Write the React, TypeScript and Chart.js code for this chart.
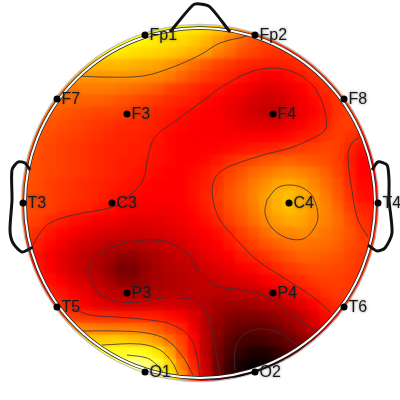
import React, { useEffect, useRef } from "react";
import { Chart, registerables } from "chart.js";

Chart.register(...registerables);

const _ = null;
const gridXs = [26,38,50,62,74,86,98,110,122,134,146,158,170,182,194,206,218,230,242,254,266,278,290,302,314,326,338,350,362,374];
const gridYs = [29,41,53,65,77,89,101,113,125,137,149,161,173,185,197,209,221,233,245,257,269,281,293,305,317,329,341,353,365,377];
const heatRows: (number | null)[][] = [
[_,_,_,_,_,_,_,_,_,_,75,75,74,73,72,70,67,63,58,53,_,_,_,_,_,_,_,_,_,_],
[_,_,_,_,_,_,_,_,75,75,74,73,71,70,68,65,61,57,53,50,48,47,_,_,_,_,_,_,_,_],
[_,_,_,_,_,_,73,73,72,71,70,69,68,66,64,61,57,54,50,48,46,45,45,45,_,_,_,_,_,_],
[_,_,_,_,65,65,65,65,65,64,63,62,60,57,54,51,48,46,44,43,42,42,43,44,46,47,_,_,_,_],
[_,_,_,61,61,60,60,60,60,60,59,58,56,53,50,47,45,43,41,39,37,37,39,41,44,46,48,_,_,_],
[_,_,57,57,56,56,56,56,55,54,53,51,48,46,44,42,41,39,37,35,33,33,35,38,41,44,46,47,_,_],
[_,55,54,53,53,52,52,51,50,49,47,46,44,43,42,39,38,36,34,32,31,31,33,36,39,42,45,46,47,_],
[_,53,52,51,50,49,48,48,47,46,45,43,42,40,39,38,37,35,33,31,29,29,32,35,38,41,45,47,47,_],
[52,51,50,49,48,47,46,45,44,44,43,42,40,39,38,37,37,36,34,33,33,33,35,37,40,42,46,47,46,46],
[52,50,49,48,47,46,45,44,43,43,42,41,39,38,37,37,37,37,37,37,37,38,39,41,42,45,47,45,43,43],
[51,50,48,47,46,45,44,43,43,42,42,40,39,38,37,38,38,39,40,41,42,43,45,46,47,48,47,43,40,40],
[51,49,48,47,46,45,44,43,42,42,41,40,39,38,38,39,41,44,46,48,50,51,52,51,50,49,47,42,38,38],
[50,49,48,47,46,45,44,43,42,41,40,39,38,38,39,41,44,47,50,53,55,57,58,57,55,52,48,43,38,38],
[50,49,47,46,45,44,43,42,41,40,39,38,38,38,40,42,45,49,52,56,59,62,63,61,58,54,50,44,39,39],
[49,48,47,46,45,44,43,41,40,39,38,38,38,38,40,43,46,50,53,57,61,64,66,64,60,56,51,45,40,39],
[49,48,47,45,44,43,41,40,38,37,37,36,36,37,39,42,45,49,52,56,60,64,66,64,60,57,53,47,43,42],
[48,47,44,42,40,39,37,36,35,34,34,34,35,36,38,40,43,47,50,54,58,61,63,62,59,57,54,49,45,43],
[46,44,41,39,37,35,33,32,31,31,31,32,33,34,36,38,40,43,47,50,54,57,58,59,57,55,53,50,46,44],
[44,42,39,36,33,31,30,28,28,28,28,29,31,32,34,36,38,41,44,47,50,52,54,55,54,54,52,49,47,45],
[42,40,37,34,31,29,27,25,22,22,24,26,28,30,31,34,36,38,41,43,45,48,50,52,52,51,50,48,46,44],
[_,41,38,34,31,29,26,22,18,18,22,25,27,28,29,31,33,35,37,39,41,44,46,48,49,49,48,47,45,_],
[_,42,40,37,33,31,28,25,21,20,23,25,26,27,28,29,30,32,33,34,37,39,42,44,46,47,47,46,45,_],
[_,44,42,40,37,34,31,28,27,26,26,26,27,27,28,28,28,28,29,30,31,34,37,40,43,45,46,46,45,_],
[_,_,46,44,41,37,34,32,31,31,31,31,31,30,29,27,25,24,24,25,26,28,30,34,38,42,44,45,_,_],
[_,_,50,48,46,44,43,43,42,42,42,41,39,37,33,28,23,20,19,19,20,22,25,28,33,39,42,43,_,_],
[_,_,_,56,57,56,56,55,55,55,54,51,47,43,36,27,21,17,15,15,15,18,21,25,30,35,38,_,_,_],
[_,_,_,_,66,66,67,68,68,66,64,60,54,48,39,28,20,14,11,10,11,13,16,20,25,30,_,_,_,_],
[_,_,_,_,_,_,76,77,78,79,77,72,63,50,40,28,18,12,8,5,5,8,12,16,_,_,_,_,_,_],
[_,_,_,_,_,_,_,_,88,90,87,81,70,56,43,30,17,9,4,1,2,6,_,_,_,_,_,_,_,_],
[_,_,_,_,_,_,_,_,_,_,96,86,75,60,46,32,18,8,2,0,_,_,_,_,_,_,_,_,_,_],
];

const headCenter = [{ x: 200, y: 203 }];

const electrodeNames = ["Fp1","Fp2","F7","F3","F4","F8","T3","C3","C4","T4","T5","P3","P4","T6","O1","O2"];
const electrodeXs = [145,255,57,127,273,344,23,112,289,378,57,127,273,344,145,255];
const electrodeYs = [35,35,99,114,114,99,203,203,203,203,307,293,293,307,372,372];

const nose = [[170,32],[193,5],[200,4],[210,7],[230,32]];
const leftEar = [[30,170],[25,163],[18,162],[12,170],[12,200],[10,230],[13,243],[22,252],[33,247]];
const rightEar = [[372,170],[378,162],[387,165],[389,180],[389,200],[392,233],[385,248],[377,251],[368,245]];

const contours: number[][][] = [
[[80,76],[100,77],[143,76],[173,67],[200,55],[220,43],[247,36],[253,33]],
[[32,247],[40,233],[50,223],[73,215],[113,207],[128,197],[143,180],[148,157],[155,137],[177,120],[200,103],[220,88],[243,75],[262,69],[283,69],[303,77],[318,93],[326,117],[325,130],[313,138],[290,148],[263,155],[233,165],[220,172],[213,183],[213,200],[220,220],[237,240],[257,260],[287,280],[313,297],[330,312]],
[[267,200],[277,188],[290,185],[303,188],[313,197],[318,217],[313,230],[303,239],[287,238],[272,228],[265,213],[267,200]],
[[363,135],[352,143],[348,157],[353,197],[358,220],[368,237]],
[[315,331],[290,313],[267,297],[243,290],[217,286],[200,273],[187,253],[167,242],[143,240],[117,245],[97,255],[88,270],[92,283],[103,297],[123,302],[140,302],[163,298],[183,298],[200,303],[210,323],[217,357],[220,375]],
[[72,308],[90,315],[117,317],[150,320],[173,325],[190,337],[197,357],[200,377]],
[[82,331],[117,331],[147,333],[167,340],[183,357],[193,375]],
[[102,345],[140,344],[160,350],[172,362],[178,374]],
[[127,355],[147,358],[157,365],[163,372]],
[[235,370],[235,350],[243,335],[260,329],[280,333],[297,345]],
];

// "hot" colour map: black, red, yellow, white
function hot(v: number) {
  const r = Math.min(1, v / 37.5);
  const g = Math.max(0, Math.min(1, (v - 37.5) / 37.5));
  const b = Math.max(0, Math.min(1, (v - 75) / 25));
  return `rgb(${Math.round(r * 255)},${Math.round(g * 255)},${Math.round(b * 255)})`;
}

const toPoints = (pts: number[][]) => pts.map(([x, y]) => ({ x, y }));

const heatPoints: { x: number; y: number; v: number }[] = [];
heatRows.forEach((row, j) =>
  row.forEach((v, i) => {
    if (v !== null) heatPoints.push({ x: gridXs[i], y: gridYs[j], v });
  })
);

const HEAT_CLIP_R = 178;

const heatClip = {
  id: "heatClip",
  beforeDatasetDraw(chart: any, args: any) {
    const label = chart.data.datasets[args.index].label;
    if (label !== "heat" && label !== "heatSoft") return;
    const { ctx, scales } = chart;
    ctx.save();
    ctx.beginPath();
    ctx.arc(scales.x.getPixelForValue(headCenter[0].x), scales.y.getPixelForValue(headCenter[0].y), HEAT_CLIP_R, 0, Math.PI * 2);
    ctx.clip();
    if (label === "heatSoft") ctx.filter = "blur(4px)";
  },
  afterDatasetDraw(chart: any, args: any) {
    const label = chart.data.datasets[args.index].label;
    if (label !== "heat" && label !== "heatSoft") return;
    chart.ctx.restore();
  },
};

const labels = {
  id: "electrodeLabels",
  afterDatasetsDraw(chart: any) {
    const { ctx, scales } = chart;
    ctx.save();
    ctx.font = '16px "Liberation Sans"';
    ctx.textBaseline = "middle";
    ctx.textAlign = "left";
    ctx.fillStyle = "#1a1a1a";
    ctx.shadowColor = "rgba(60,60,60,0.6)";
    ctx.shadowBlur = 3;
    electrodeNames.forEach((name, i) => {
      ctx.fillText(name, scales.x.getPixelForValue(electrodeXs[i]) + 4.5, scales.y.getPixelForValue(electrodeYs[i]) + 1);
    });
    ctx.restore();
  },
};

export default function App() {
  const ref = useRef<HTMLCanvasElement>(null);
  useEffect(() => {
    const lineBase = { showLine: true, pointRadius: 0, fill: false };
    const heatBase = {
      data: heatPoints,
      pointStyle: "rect",
      pointRadius: 8.8,
      pointBorderWidth: 0,
      pointBackgroundColor: (c: any) => hot(c.raw ? c.raw.v : 0),
    };
    const chart = new Chart(ref.current!, {
      type: "scatter",
      data: {
        datasets: [
          {
            label: "electrodes",
            data: electrodeXs.map((x, i) => ({ x, y: electrodeYs[i] })),
            pointRadius: 3.5,
            pointBackgroundColor: "#000",
            pointBorderWidth: 0,
          },
          ...[nose, leftEar, rightEar].map((pts) => ({
            ...lineBase,
            label: "head",
            data: toPoints(pts),
            borderColor: "#111",
            borderWidth: 3,
            tension: 0.25,
          })),
          {
            label: "ringInner",
            data: headCenter,
            pointRadius: 175,
            pointBackgroundColor: "rgba(0,0,0,0)",
            pointBorderColor: "#fff",
            pointBorderWidth: 2,
          },
          {
            label: "ringOuter",
            data: headCenter,
            pointRadius: 175,
            pointBackgroundColor: "rgba(0,0,0,0)",
            pointBorderColor: "#222",
            pointBorderWidth: 3.5,
          },
          ...contours.map((pts) => ({
            ...lineBase,
            label: "contour",
            data: toPoints(pts),
            borderColor: "rgba(50,50,60,0.8)",
            borderWidth: 1,
            tension: 0.35,
          })),
          { ...heatBase, label: "heatSoft" },
          { ...heatBase, label: "heat" },
          {
            label: "halo",
            data: headCenter,
            pointRadius: 178.5,
            pointBackgroundColor: "rgba(0,0,0,0)",
            pointBorderColor: "#c4c4c4",
            pointBorderWidth: 1.5,
          },
        ] as any,
      },
      options: {
        animation: false,
        responsive: false,
        events: [],
        layout: { padding: 0, autoPadding: false },
        plugins: { legend: { display: false }, tooltip: { enabled: false } },
        scales: {
          x: { type: "linear", min: 0, max: 400, display: false },
          y: { type: "linear", min: 0, max: 400, reverse: true, display: false },
        },
      } as any,
      plugins: [heatClip, labels],
    });
    return () => chart.destroy();
  }, []);
  return (
    <div style={{ position: "absolute", left: 0, top: 0, width: 400, height: 400, background: "#fff" }}>
      <canvas ref={ref} width={400} height={400} style={{ display: "block" }} />
    </div>
  );
}
